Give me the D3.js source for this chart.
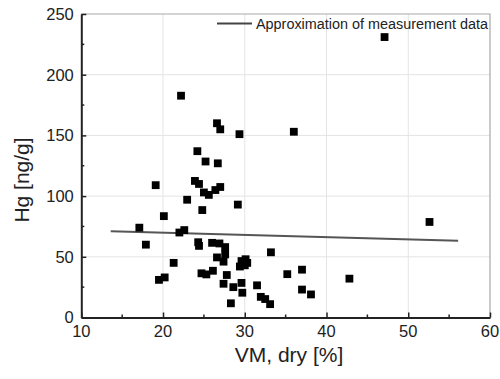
<!DOCTYPE html>
<html>
<head>
<meta charset="utf-8">
<script src="https://cdn.jsdelivr.net/npm/d3@7"></script>
<style>
  body { margin: 0; background: #fff; }
  text { font-family: "Liberation Sans", Arial, sans-serif; fill: #222; }
</style>
</head>
<body>
<div id="chart"></div>
<script>
// measured points: VM dry [%] vs Hg [ng/g]
const vm = [17.1, 17.9, 19.1, 19.5, 20.2, 20.1, 21.3, 22.0, 22.6, 22.2,
  22.95, 23.9, 24.4, 24.2, 24.3, 24.4, 24.8, 24.7, 25.3, 26.1,
  25.0, 25.6, 26.4, 27.0, 25.2, 26.7, 26.6, 27.0, 26.0, 26.9,
  27.6, 26.6, 27.4, 27.6, 27.8, 27.4, 28.6, 28.3, 29.15, 29.35,
  29.4, 29.6, 30.1, 30.0, 30.3, 29.6, 29.7, 31.5, 31.96, 32.5,
  33.1, 33.2, 35.2, 37.0, 37.0, 38.1, 42.8, 36.0, 47.1, 52.6];
const hg = [74, 60, 109, 31, 33, 83.5, 45, 70, 72, 182.7,
  97, 112.5, 110, 137, 62, 59, 88.5, 36.4, 35.5, 38.5,
  103, 101, 105, 107.5, 128.5, 127, 160, 155, 61.5, 61,
  58, 49.5, 46, 52, 35, 27.8, 25, 11.7, 93, 151,
  42, 46.5, 48, 43, 45, 28.5, 20.4, 26.5, 17, 15.2,
  11, 53.7, 35.7, 39.4, 23, 19, 32, 153, 231, 78.7];

// approximation line end points
const fitX = [13.6, 56.1];
const fitY = [71, 63.3];

const xTicks = [10, 20, 30, 40, 50, 60];
const yTicks = [0, 50, 100, 150, 200, 250];
const legendLabel = "Approximation of measurement data";

const W = 500, H = 379;
const margin = { top: 14, right: 10, bottom: 61.5, left: 81.3 };
const w = W - margin.left - margin.right;
const h = H - margin.top - margin.bottom;

const svg = d3.select("#chart").append("svg")
    .attr("width", W)
    .attr("height", H);

const g = svg.append("g")
    .attr("transform", `translate(${margin.left},${margin.top})`);

const x = d3.scaleLinear().domain([10, 60]).range([0, w]);
const y = d3.scaleLinear().domain([0, 250]).range([h, 0]);

// grid
g.append("g").selectAll("line")
    .data(xTicks.slice(1, -1))
    .join("line")
    .attr("x1", d => x(d)).attr("x2", d => x(d))
    .attr("y1", 0).attr("y2", h)
    .attr("stroke", "#e4e4e4").attr("stroke-width", 1);
g.append("g").selectAll("line")
    .data(yTicks.slice(1, -1))
    .join("line")
    .attr("y1", d => y(d)).attr("y2", d => y(d))
    .attr("x1", 0).attr("x2", w)
    .attr("stroke", "#e4e4e4").attr("stroke-width", 1);

// frame top / right
g.append("path")
    .attr("d", `M0,0H${w}V${h}`)
    .attr("fill", "none")
    .attr("stroke", "#a8a8a8").attr("stroke-width", 1.2);

// axes with inward ticks
const xAxis = g.append("g").attr("transform", `translate(0,${h})`)
    .call(d3.axisBottom(x).tickValues(xTicks).tickSizeInner(-5).tickSizeOuter(0).tickFormat(""));
xAxis.append("g").selectAll("line")
    .data(d3.range(15, 60, 10))
    .join("line")
    .attr("x1", d => x(d)).attr("x2", d => x(d))
    .attr("y1", 0).attr("y2", -3)
    .attr("stroke", "#222").attr("stroke-width", 1.5);

const yAxis = g.append("g")
    .call(d3.axisLeft(y).tickValues(yTicks).tickSizeInner(-5).tickSizeOuter(0).tickFormat(""));
yAxis.append("g").selectAll("line")
    .data(d3.range(25, 250, 50))
    .join("line")
    .attr("y1", d => y(d)).attr("y2", d => y(d))
    .attr("x1", 0).attr("x2", 3)
    .attr("stroke", "#222").attr("stroke-width", 1.5);

[xAxis, yAxis].forEach(a => {
  a.select(".domain").attr("stroke", "#222").attr("stroke-width", 2);
  a.selectAll(".tick line").attr("stroke", "#222").attr("stroke-width", 1.5);
});

// tick labels
g.append("g").selectAll("text")
    .data(xTicks)
    .join("text")
    .attr("x", d => x(d))
    .attr("y", h + 19.5)
    .attr("text-anchor", "middle")
    .style("font-size", "16.5px")
    .text(d => d);
g.append("g").selectAll("text")
    .data(yTicks)
    .join("text")
    .attr("x", -7.5)
    .attr("y", d => y(d))
    .attr("dy", "0.36em")
    .attr("text-anchor", "end")
    .style("font-size", "16.5px")
    .text(d => d);

// axis titles
svg.append("text")
    .attr("x", 289)
    .attr("y", 362)
    .attr("text-anchor", "middle")
    .style("font-size", "21px")
    .text("VM, dry [%]");
svg.append("text")
    .attr("transform", "translate(29,180) rotate(-90)")
    .attr("text-anchor", "middle")
    .style("font-size", "21px")
    .text("Hg [ng/g]");

// approximation line
g.append("line")
    .attr("x1", x(fitX[0])).attr("y1", y(fitY[0]))
    .attr("x2", x(fitX[1])).attr("y2", y(fitY[1]))
    .attr("stroke", "#555").attr("stroke-width", 2);

// points
const s = 7.8;
g.append("g").selectAll("rect")
    .data(vm.map((v, i) => [v, hg[i]]))
    .join("rect")
    .attr("x", d => x(d[0]) - s / 2)
    .attr("y", d => y(d[1]) - s / 2)
    .attr("width", s).attr("height", s)
    .attr("fill", "#000");

// legend
const lg = svg.append("g").attr("transform", "translate(217,23.5)");
lg.append("line")
    .attr("x1", 0).attr("x2", 35)
    .attr("stroke", "#444").attr("stroke-width", 2);
lg.append("text")
    .attr("x", 39)
    .attr("y", 5)
    .attr("textLength", 232)
    .attr("lengthAdjust", "spacingAndGlyphs")
    .style("font-size", "14px")
    .text(legendLabel);
</script>
</body>
</html>
